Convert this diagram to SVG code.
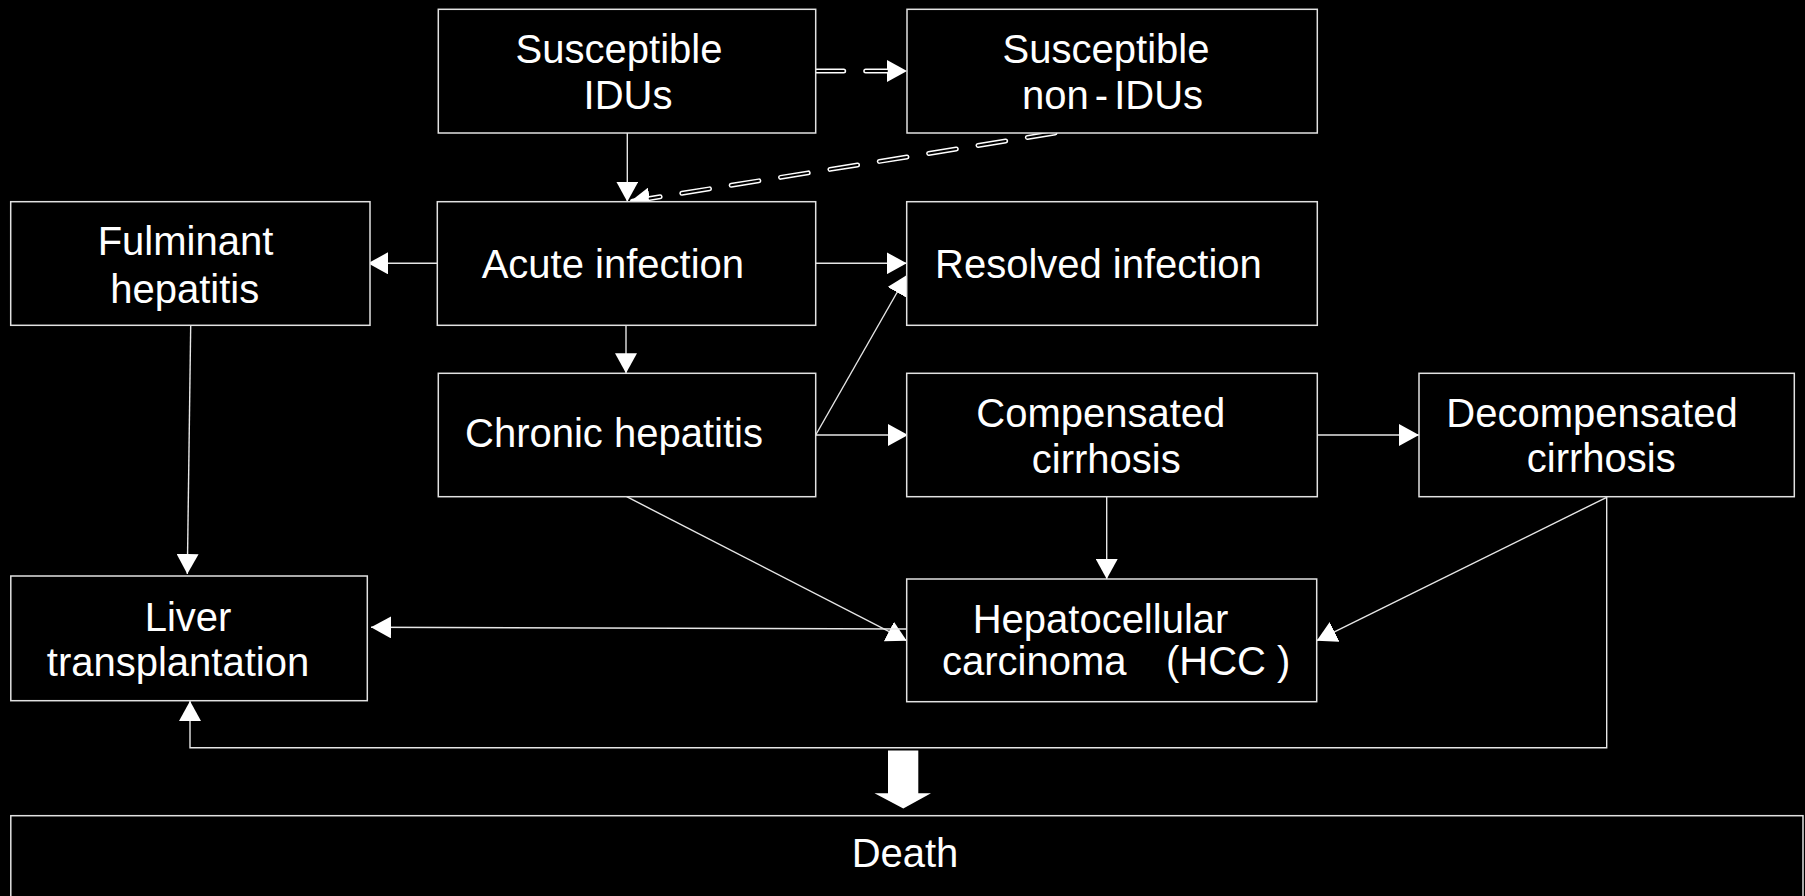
<svg xmlns="http://www.w3.org/2000/svg" width="1805" height="896" viewBox="0 0 1805 896">
<style>
.box{fill:#000;stroke:#e2e2e2;stroke-width:1.5}
.t{font-family:"Liberation Sans",Arial,sans-serif;font-size:40px;fill:#fff}
.m{text-anchor:middle}
.ln{fill:none;stroke:#e6e6e6;stroke-width:1.4}
.dw{fill:none;stroke:#fff;stroke-width:5;stroke-linecap:round;stroke-dasharray:28 22}
.db{fill:none;stroke:#000;stroke-width:2;stroke-linecap:round;stroke-dasharray:28 22}
</style>
<defs>
<marker id="ah" markerUnits="userSpaceOnUse" markerWidth="22" markerHeight="22" viewBox="0 0 22 22" refX="20" refY="11" orient="auto">
<path d="M0,0 L20,11 L0,22 Z" fill="#fff"/>
</marker>
</defs>
<rect width="1805" height="896" fill="#000"/>

<g id="connectors">
<path class="ln" d="M627.3,133 L627.3,201.7" marker-end="url(#ah)"/>
<path class="dw" d="M815.7,71 L907,71" marker-end="url(#ah)"/>
<path class="db" d="M815.7,71 L887,71"/>
<path class="dw" d="M1055,133 L630,201.7" marker-end="url(#ah)"/>
<path class="db" d="M1055,133 L649.7,198.5"/>
<path class="ln" d="M437.3,263.3 L368,263.3" marker-end="url(#ah)"/>
<path class="ln" d="M815.7,263.3 L906.7,263.3" marker-end="url(#ah)"/>
<path class="ln" d="M626,325.3 L626,373.3" marker-end="url(#ah)"/>
<path class="ln" d="M815.7,435 L907,275" marker-end="url(#ah)"/>
<path class="ln" d="M815.7,435 L908,435" marker-end="url(#ah)"/>
<path class="ln" d="M1313,435 L1419,435" marker-end="url(#ah)"/>
<path class="ln" d="M1106.7,496.7 L1106.7,579" marker-end="url(#ah)"/>
<path class="ln" d="M626.7,496.7 L906.7,640.7" marker-end="url(#ah)"/>
<path class="ln" d="M1606.7,497.3 L1316.7,640.7" marker-end="url(#ah)"/>
<path class="ln" d="M906.7,629 L371,627.3" marker-end="url(#ah)"/>
<path class="ln" d="M190.7,325.3 L187.3,574" marker-end="url(#ah)"/>
<path class="ln" d="M1606.7,496.7 L1606.7,747.7 L190,747.7 L190,701" marker-end="url(#ah)"/>
<polygon points="888,750.5 918.3,750.5 918.3,793.3 931,793.3 903.3,808.5 874.5,793.3 888,793.3" fill="#fff"/>
</g>

<g id="susceptible-idus">
<rect class="box" x="438.3" y="9.3" width="377.4" height="123.7"/>
<text class="t m" x="619" y="63.3">Susceptible</text>
<text class="t m" x="628" y="109.3">IDUs</text>
</g>

<g id="susceptible-non-idus">
<rect class="box" x="907" y="9.3" width="410.3" height="123.7"/>
<text class="t m" x="1106" y="63.3">Susceptible</text>
<text class="t m" x="1112.5" y="109.3" word-spacing="-5">non - IDUs</text>
</g>

<g id="fulminant-hepatitis">
<rect class="box" x="10.7" y="201.7" width="359.3" height="123.6"/>
<text class="t m" x="185.5" y="255">Fulminant</text>
<text class="t m" x="184.7" y="302.7">hepatitis</text>
</g>

<g id="acute-infection">
<rect class="box" x="437.3" y="201.7" width="378.4" height="123.6"/>
<text class="t" x="481.7" y="278">Acute infection</text>
</g>

<g id="resolved-infection">
<rect class="box" x="906.7" y="201.7" width="410.6" height="123.6"/>
<text class="t" x="935" y="278.3">Resolved infection</text>
</g>

<g id="chronic-hepatitis">
<rect class="box" x="438.3" y="373.3" width="377.4" height="123.4"/>
<text class="t" x="465" y="446.7">Chronic hepatitis</text>
</g>

<g id="compensated-cirrhosis">
<rect class="box" x="906.7" y="373.3" width="410.6" height="123.4"/>
<text class="t m" x="1100.8" y="426.7">Compensated</text>
<text class="t m" x="1106.3" y="472.7">cirrhosis</text>
</g>

<g id="decompensated-cirrhosis">
<rect class="box" x="1419" y="373.3" width="375.3" height="123.4"/>
<text class="t m" x="1592" y="426.7">Decompensated</text>
<text class="t m" x="1601.3" y="471.7">cirrhosis</text>
</g>

<g id="liver-transplantation">
<rect class="box" x="10.8" y="576" width="356.5" height="124.7"/>
<text class="t m" x="188" y="630.7">Liver</text>
<text class="t m" x="178" y="676">transplantation</text>
</g>

<g id="hcc">
<rect class="box" x="906.7" y="579" width="410" height="122.7"/>
<text class="t m" x="1100.5" y="633.3">Hepatocellular</text>
<text class="t" y="675"><tspan x="942">carcinoma</tspan><tspan x="1166">(HCC )</tspan></text>
</g>

<g id="death">
<rect class="box" x="10.8" y="815.7" width="1792.2" height="100"/>
<text class="t m" x="905" y="867.3">Death</text>
</g>
</svg>
